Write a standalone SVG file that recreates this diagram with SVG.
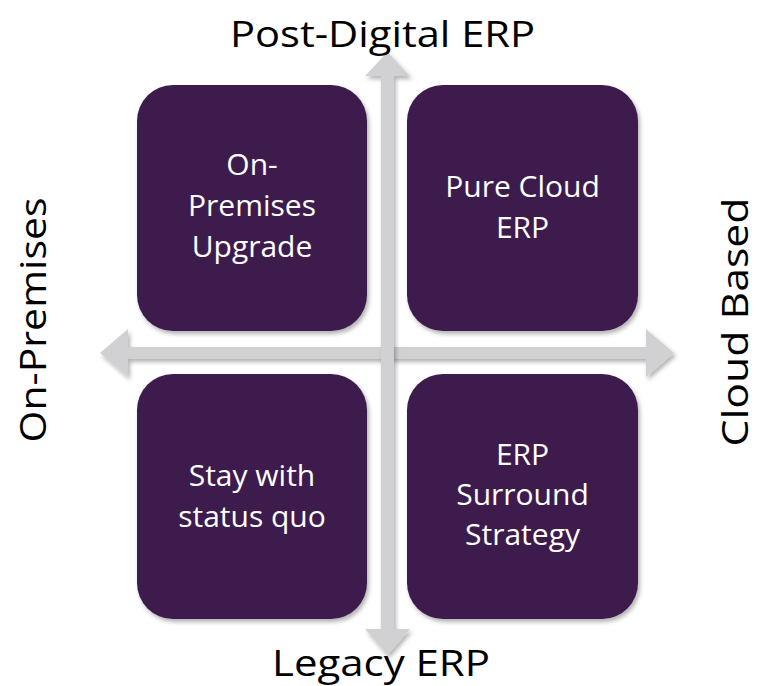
<svg xmlns="http://www.w3.org/2000/svg" width="761" height="686" viewBox="0 0 761 686">
  <defs>
    <filter id="shadow" x="-10%" y="-10%" width="130%" height="130%">
      <feDropShadow dx="2" dy="3" stdDeviation="2" flood-color="#000" flood-opacity="0.3"/>
    </filter>
    <style>
      .box { fill: #3d1a4d; filter: url(#shadow); }
      .arrow { fill: #d1d1d3; filter: url(#shadow); }
      .inner { font-family: "Open Sans", "Liberation Sans", sans-serif; font-size: 30px; fill: #ffffff; text-anchor: middle; }
      .axis { font-family: "Open Sans", "Liberation Sans", sans-serif; font-size: 37px; fill: #000000; text-anchor: middle; }
    </style>
  </defs>
  <rect width="761" height="686" fill="#ffffff"/>

  <!-- axes: double-headed cross -->
  <g id="connectors">
    <polygon class="arrow" points="100,353 128,329 128,347 646,347 646,329 674,353 646,377 646,359 128,359 128,377"/>
    <polygon class="arrow" points="387.5,52 410,76 394,76 394,629 410,629 387.5,655 365,629 381,629 381,76 365,76"/>
  </g>

  <!-- quadrant nodes -->
  <g id="on-premises-upgrade">
    <rect class="box" x="137" y="85" width="230" height="246" rx="36" ry="36"/>
    <text class="inner" x="252" y="175">On-</text>
    <text class="inner" x="252" y="216">Premises</text>
    <text class="inner" x="252" y="257">Upgrade</text>
  </g>
  <g id="pure-cloud-erp">
    <rect class="box" x="407" y="85" width="231" height="246" rx="36" ry="36"/>
    <text class="inner" x="522.5" y="197">Pure Cloud</text>
    <text class="inner" x="522.5" y="238">ERP</text>
  </g>
  <g id="stay-with-status-quo">
    <rect class="box" x="137" y="374" width="230" height="245" rx="36" ry="36"/>
    <text class="inner" x="252" y="486">Stay with</text>
    <text class="inner" x="252" y="527">status quo</text>
  </g>
  <g id="erp-surround-strategy">
    <rect class="box" x="407" y="374" width="231" height="245" rx="36" ry="36"/>
    <text class="inner" x="522.5" y="465">ERP</text>
    <text class="inner" x="522.5" y="505">Surround</text>
    <text class="inner" x="522.5" y="545">Strategy</text>
  </g>

  <!-- axis labels -->
  <g id="axis-labels">
    <text class="axis" x="382.5" y="47" textLength="305" lengthAdjust="spacingAndGlyphs">Post-Digital ERP</text>
    <text class="axis" x="381" y="676" textLength="218" lengthAdjust="spacingAndGlyphs">Legacy ERP</text>
    <text class="axis" transform="translate(46,320) rotate(-90)" x="0" y="0" textLength="245" lengthAdjust="spacingAndGlyphs">On-Premises</text>
    <text class="axis" transform="translate(748,322) rotate(-90)" x="0" y="0" textLength="249" lengthAdjust="spacingAndGlyphs">Cloud Based</text>
  </g>
</svg>
